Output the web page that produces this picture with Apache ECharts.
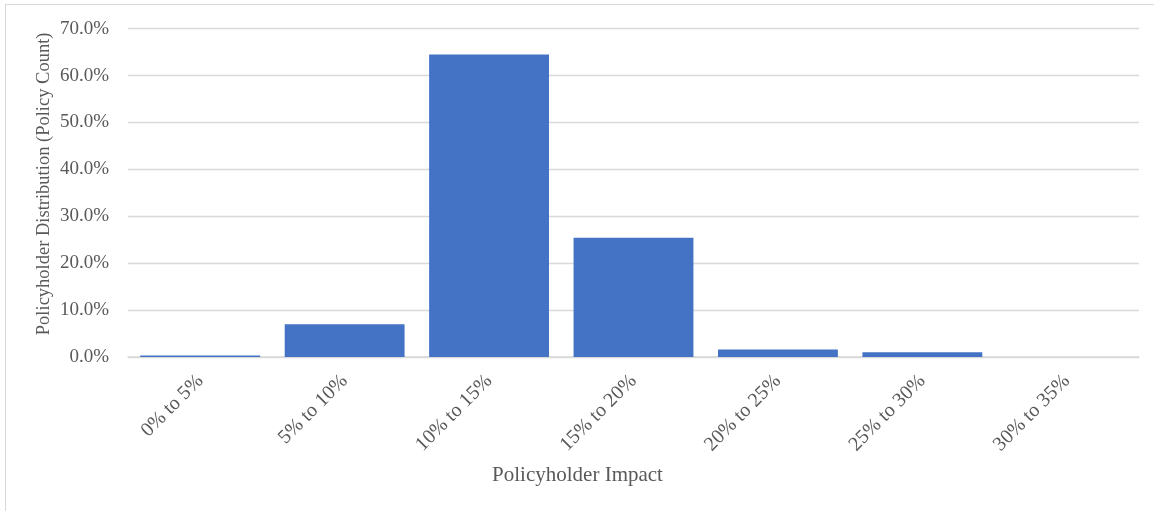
<!DOCTYPE html>
<html>
<head>
<meta charset="utf-8">
<script src="https://cdn.jsdelivr.net/npm/echarts@6/dist/echarts.min.js"></script>
<style>
  html, body { margin: 0; padding: 0; background: #fff; }
  #frame { position: absolute; left: 5px; top: 4px; width: 1160px; height: 520px; border: 1px solid #d9d9d9; }
  #main { position: absolute; left: 0; top: 0; width: 1154px; height: 511px; }
</style>
</head>
<body>
<div id="frame"></div>
<div id="main"></div>
<script type="text/javascript">
    // 数据
    var categories = ['0% to 5%', '5% to 10%', '10% to 15%', '15% to 20%', '20% to 25%', '25% to 30%', '30% to 35%'];
    var shares = [0.3, 7.0, 64.5, 25.4, 1.6, 1.0, 0];
    var yTicks = [0, 10, 20, 30, 40, 50, 60, 70];

    var myChart = echarts.init(document.getElementById('main'));

    var textColor = '#595959';
    var font = '"Liberation Serif", "Times New Roman", serif';

    var option = {
        animation: false,
        textStyle: { fontFamily: font },
        grid: { left: 128, right: 15, top: 28.7, bottom: 154 },
        xAxis: {
            type: 'category',
            data: categories,
            name: 'Policyholder Impact',
            nameLocation: 'middle',
            nameGap: 108,
            nameMoveOverlap: false,
            nameTextStyle: { color: textColor, fontSize: 21, fontFamily: font, padding: [0, 112, 0, 0] },
            axisLine: { lineStyle: { color: '#d9d9d9', width: 1.5 } },
            axisTick: { show: false },
            axisLabel: { rotate: 45, margin: 21, color: textColor, fontSize: 20, fontFamily: font, interval: 0 }
        },
        yAxis: {
            type: 'value',
            min: yTicks[0],
            max: yTicks[yTicks.length - 1],
            interval: 10,
            name: 'Policyholder Distribution (Policy Count)',
            nameLocation: 'middle',
            nameGap: 74,
            nameMoveOverlap: false,
            nameTextStyle: { color: textColor, fontSize: 18.5, fontFamily: font, padding: [0, 0, 0, 18] },
            axisLine: { show: false },
            axisTick: { show: false },
            splitLine: { lineStyle: { color: '#d9d9d9', width: 1.3 } },
            axisLabel: {
                margin: 19, color: textColor, fontSize: 19, fontFamily: font,
                formatter: function (v) { return v.toFixed(1) + '%'; }
            }
        },
        series: [{
            type: 'bar',
            data: shares,
            barCategoryGap: '17%',
            itemStyle: { color: '#4472C4' }
        }]
    };

    myChart.setOption(option);
</script>
</body>
</html>
